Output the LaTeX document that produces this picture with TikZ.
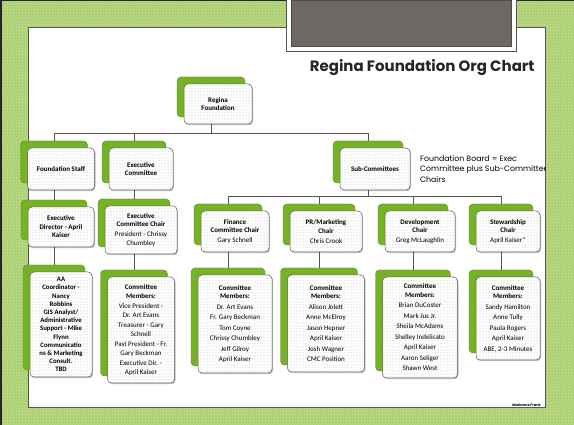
\documentclass[tikz,border=0pt]{standalone}
\usepackage{fontspec}
\setmainfont{Poppins}
\newfontfamily\boxfont{Carlito}
\usetikzlibrary{shadows,patterns,backgrounds}

\definecolor{framegreen}{RGB}{172,208,112}
\definecolor{boxgreen}{RGB}{118,178,38}
\definecolor{linegray}{RGB}{85,85,85}
\definecolor{bargray}{RGB}{108,104,100}

\tikzset{
  orgbox/.style={draw=linegray, line width=0.5pt, rounded corners=4pt, fill=white,
    copy shadow={shadow xshift=-7pt, shadow yshift=7pt, fill=boxgreen, draw=boxgreen!75!black, line width=0.4pt},
    drop shadow={shadow xshift=1pt, shadow yshift=-1.2pt, fill=black, opacity=0.25},
    postaction={pattern=dots, pattern color=gray!60},
    align=center, inner sep=1pt,
    font=\boxfont\fontsize{7}{8.5}\selectfont\bfseries},
  orgline/.style={draw=linegray, line width=0.7pt},
}

\begin{document}
\begin{tikzpicture}[x=1pt, y=-1pt]
    \useasboundingbox (0,0) rectangle (574,425);
    %%Frame and slide
    \begin{scope}[on background layer]
        \fill[framegreen] (0,0) rectangle (574,425);
        \fill[pattern=crosshatch dots, pattern color=white!50!framegreen] (0,0) rectangle (574,425);
        \fill[white] (28,27) rectangle (545,407);
        \draw[linegray, line width=0.8pt] (28,27) rectangle (545,407);
    \end{scope}
    \draw[black!85, line width=1.5pt] (0.75,425) -- (0.75,0.75) -- (574,0.75);

    %%Header bar
    \fill[white] (286,0) rectangle (516,51);
    \draw[linegray, line width=0.6pt] (286,0) -- (286,51) -- (516,51) -- (516,0);
    \fill[bargray] (291,0) rectangle (511,46);
    \draw[black!70, line width=0.8pt] (291,0) rectangle (511,46);

    %%Title
    \node[font=\fontsize{15}{17}\selectfont\bfseries, anchor=east, text=black!85] (title) at (538,68) {Regina Foundation Org Chart};

    %%Top
    \node[orgbox, minimum width=68pt, minimum height=40pt] (root) at (218,104) {Regina\\Foundation};

    %%Second row
    \node[orgbox, minimum width=67pt, minimum height=42pt] (staff) at (61,169) {Foundation Staff};
    \node[orgbox, minimum width=64pt, minimum height=42pt] (exec) at (141,169) {Executive\\Committee};
    \node[orgbox, minimum width=70pt, minimum height=42pt] (sub) at (375,169) {Sub-Committees};

    %%Note
    \begin{scope}
        \clip (0,0) rectangle (545,425);
        \node[anchor=north west, align=left, inner sep=0pt, font=\fontsize{7.8}{10.8}\selectfont] (board) at (420,155) {Foundation Board = Exec\\Committee plus Sub-Committee\\Chairs};
    \end{scope}

    %%Third row
    \node[orgbox, minimum width=66pt, minimum height=40pt] (director) at (61,227) {Executive\\Director - April\\Kaiser};
    \node[orgbox, minimum width=72pt, minimum height=48pt] (chair) at (141,230) {Executive\\Committee Chair\\[1.5pt]\textmd{President - Chrissy}\\\textmd{Chumbley}};
    \node[orgbox, minimum width=68pt, minimum height=41pt] (finance) at (235,231.5) {Finance\\Committee Chair\\[1.5pt]\textmd{Gary Schnell}};
    \node[orgbox, minimum width=72pt, minimum height=41pt] (pr) at (326,231.5) {PR/Marketing\\Chair\\[1.5pt]\textmd{Chris Crook}};
    \node[orgbox, minimum width=70pt, minimum height=41pt] (devel) at (420,231.5) {Development\\Chair\\[1.5pt]\textmd{Greg McLaughlin}};
    \node[orgbox, minimum width=64pt, minimum height=41pt] (stew) at (508,231.5) {Stewardship\\Chair\\[1.5pt]\textmd{April Kaiser*}};

    %%Members
    \node[orgbox, minimum width=62pt, minimum height=105pt, font=\boxfont\fontsize{6.8}{8.2}\selectfont\bfseries] (staffmem) at (61,324.5) {AA\\Coordinator -\\Nancy\\Robbins\\GIS Analyst/\\Administrative\\Support - Mike\\Flynn\\Communicatio\\ns \& Marketing\\Consult.\\TBD};
    \node[orgbox, minimum width=67pt, minimum height=106pt] (execmem) at (141,330) {Committee\\Members:\\[2pt]\textmd{Vice President -}\\\textmd{Dr. Art Evans}\\[2pt]\textmd{Treasurer - Gary}\\\textmd{Schnell}\\[2pt]\textmd{Past President - Fr.}\\\textmd{Gary Beckman}\\[2pt]\textmd{Executive Dir. -}\\\textmd{April Kaiser}};
    \node[orgbox, minimum width=74pt, minimum height=98pt] (finmem) at (235,324) {Committee\\Members:\\[2pt]\textmd{Dr. Art Evans}\\[2pt]\textmd{Fr. Gary Beckman}\\[2pt]\textmd{Tom Coyne}\\[2pt]\textmd{Chrissy Chumbley}\\[2pt]\textmd{Jeff Gilroy}\\[2pt]\textmd{April Kaiser}};
    \node[orgbox, minimum width=77pt, minimum height=97pt] (prmem) at (326,323.5) {Committee\\Members:\\[2pt]\textmd{Alison Jolett}\\[2pt]\textmd{Anne McElroy}\\[2pt]\textmd{Jason Hepner}\\[2pt]\textmd{April Kaiser}\\[2pt]\textmd{Josh Wagner}\\[2pt]\textmd{CMC Position}};
    \node[orgbox, minimum width=75pt, minimum height=101pt] (devmem) at (420,327.5) {Committee\\Members:\\[2pt]\textmd{Brian DuCoster}\\[2pt]\textmd{Mark Jus Jr.}\\[2pt]\textmd{Sheila McAdams}\\[2pt]\textmd{Shelley Indelicato}\\[2pt]\textmd{April Kaiser}\\[2pt]\textmd{Aaron Seliger}\\[2pt]\textmd{Shawn West}};
    \node[orgbox, minimum width=64pt, minimum height=83pt] (stewmem) at (508,318.5) {Committee\\Members:\\[2pt]\textmd{Sandy Hamilton}\\[2pt]\textmd{Anne Tully}\\[2pt]\textmd{Paula Rogers}\\[2pt]\textmd{April Kaiser}\\[2pt]\textmd{ABE, 2-3 Minutes}};

    %%Footer
    \node[font=\fontsize{3.5}{4}\selectfont\bfseries, anchor=east, inner sep=0pt] (footer) at (541,405) {Marianne Frank};

    %%Connectors (run through the green back boxes)
    \foreach \n in {root,staff,exec,sub,director,chair,finance,pr,devel,stew,staffmem,execmem,finmem,prmem,devmem,stewmem}
        \coordinate (g\n) at ([xshift=-7pt]\n.center);
    \coordinate (bus1) at (0,133);
    \coordinate (bus2) at (0,196);
    \begin{scope}[on background layer]
        \draw[orgline] (groot) -- (groot |- bus1);
        \draw[orgline] (gstaff) |- (gsub |- bus1) -- (gsub);
        \draw[orgline] (gexec) -- (gexec |- bus1);
        \draw[orgline] (gstaff) -- (gstaffmem);
        \draw[orgline] (gexec) -- (gexecmem);
        \draw[orgline] (gsub) -- (gsub |- bus2);
        \draw[orgline] (gfinance) |- (gstew |- bus2) -- (gstew);
        \draw[orgline] (gpr) -- (gpr |- bus2);
        \draw[orgline] (gdevel) -- (gdevel |- bus2);
        \foreach \a/\b in {finance/finmem, pr/prmem, devel/devmem, stew/stewmem}
            \draw[orgline] (g\a) -- (g\b);
    \end{scope}
\end{tikzpicture}
\end{document}
